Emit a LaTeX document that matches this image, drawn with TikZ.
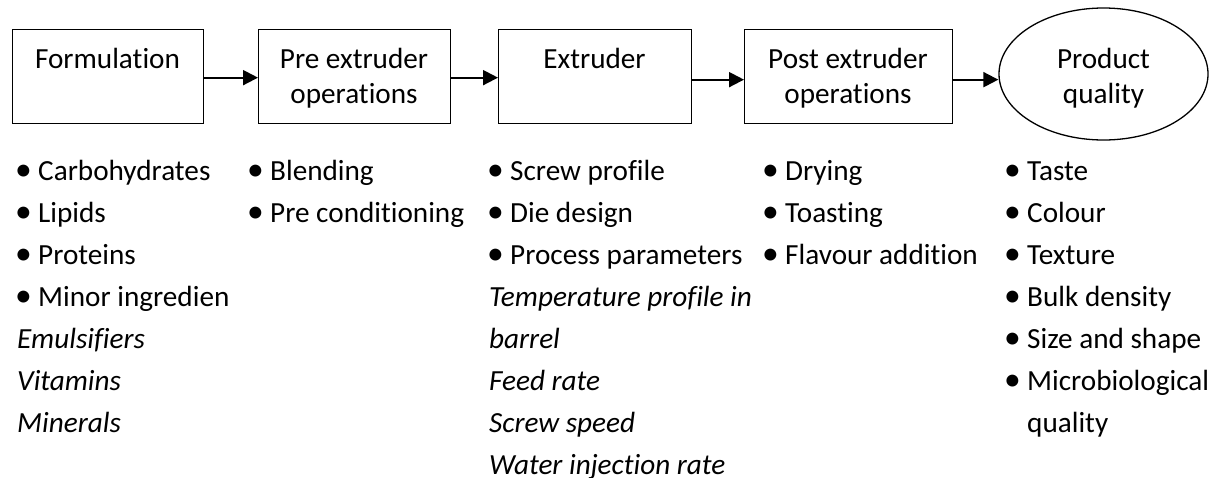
\documentclass[tikz,border=0pt]{standalone}
\usepackage{fontspec}
\setmainfont[Ligatures=NoCommon]{Carlito}
\usetikzlibrary{arrows.meta,shapes.geometric}

% bullet with a fixed indent, and the same indent without a bullet
\newcommand\bul{\makebox[21pt][l]{\hspace*{-2pt}\scalebox{1.15}{\textbullet}}}
\newcommand\ind{\hspace*{21pt}}
\newcommand\twoline[2]{\begin{tabular}[t]{@{}c@{}}#1\\#2\end{tabular}}

\begin{document}
\begin{tikzpicture}[x=1pt,y=-1pt,
  stagebox/.style={draw, line width=1.3pt, rectangle, inner sep=0pt,
    anchor=north west, minimum height=94pt},
  stagelabel/.style={anchor=base, inner sep=0pt,
    font=\fontsize{29.2}{35}\selectfont},
  itemlist/.style={anchor=base west, inner sep=0pt,
    font=\fontsize{29.2}{42}\selectfont},
  flow/.style={line width=2pt, -{Triangle[length=15pt,width=15pt]}}
]
\useasboundingbox (0,0) rectangle (1212,477);

% process stages
\node[stagebox, minimum width=191pt] (form) at (12,29) {};
\node[stagebox, minimum width=192pt] (pre)  at (258,29) {};
\node[stagebox, minimum width=193pt] (extr) at (498,29) {};
\node[stagebox, minimum width=208pt] (post) at (744,29) {};
\node[draw, line width=1.3pt, ellipse, inner sep=0pt,
  minimum width=209pt, minimum height=132pt] (qual) at (1103.5,74) {};

% stage titles
\node[stagelabel] (formT) at (107.5,68) {Formulation};
\node[stagelabel] (preT)  at (354,68) {\twoline{Pre extruder}{operations}};
\node[stagelabel] (extrT) at (594.5,68) {Extruder};
\node[stagelabel] (postT) at (848,68) {\twoline{Post extruder}{operations}};
\node[stagelabel] (qualT) at (1103.5,68) {\twoline{Product}{quality}};

% connectors between stages
\draw[flow] ([yshift=-1pt]form.east) -- ([yshift=-1pt]form.east -| pre.west);
\draw[flow] ([yshift=-1pt]pre.east) -- ([yshift=-1pt]pre.east -| extr.west);
\draw[flow] ([yshift=-3pt]extr.east) -- ([yshift=-3pt]extr.east -| post.west);
\draw[flow] ([yshift=-3pt]post.east) -- ([yshift=-3pt]post.east -| qual.west);

% details under each stage
\node[itemlist] (formL) at (17,180) {\begin{tabular}[t]{@{}l@{}}
  \bul Carbohydrates\\
  \bul Lipids\\
  \bul Proteins\\
  \bul Minor ingredien\\
  \textit{Emulsifiers}\\
  \textit{Vitamins}\\
  \textit{Minerals}
\end{tabular}};

\node[itemlist] (preL) at (249,180) {\begin{tabular}[t]{@{}l@{}}
  \bul Blending\\
  \bul Pre conditioning
\end{tabular}};

\node[itemlist] (extrL) at (489,180) {\begin{tabular}[t]{@{}l@{}}
  \bul Screw profile\\
  \bul Die design\\
  \bul Process parameters\\
  \textit{Temperature profile in}\\
  \textit{barrel}\\
  \textit{Feed rate}\\
  \textit{Screw speed}\\
  \textit{Water injection rate}
\end{tabular}};

\node[itemlist] (postL) at (764,180) {\begin{tabular}[t]{@{}l@{}}
  \bul Drying\\
  \bul Toasting\\
  \bul Flavour addition
\end{tabular}};

\node[itemlist] (qualL) at (1006,180) {\begin{tabular}[t]{@{}l@{}}
  \bul Taste\\
  \bul Colour\\
  \bul Texture\\
  \bul Bulk density\\
  \bul Size and shape\\
  \bul Microbiological\\
  \ind quality
\end{tabular}};
\end{tikzpicture}
\end{document}
